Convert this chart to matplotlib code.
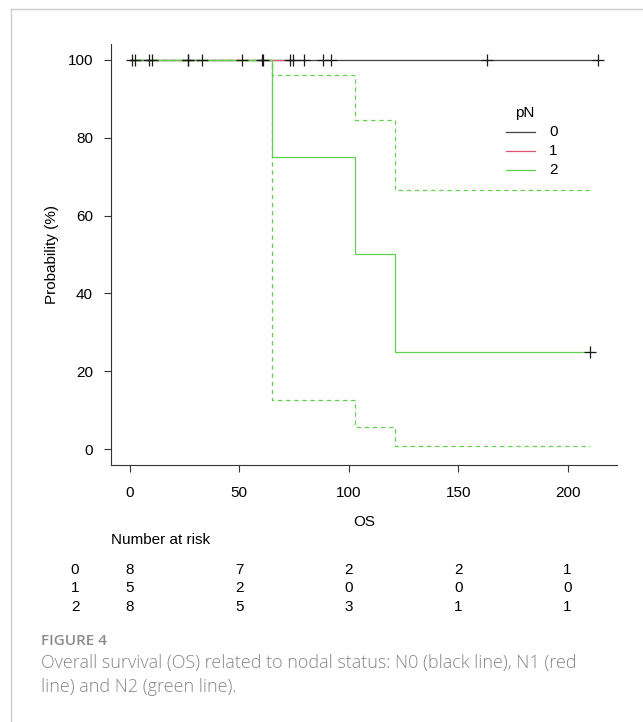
import matplotlib
matplotlib.use("Agg")
import matplotlib.pyplot as plt
from matplotlib.lines import Line2D
from matplotlib.transforms import blended_transform_factory

# Kaplan-Meier steps (OS, probability in %)
groups = ["0", "1", "2"]
colors = ["#404040", "#DF536B", "#61D04F"]

step_times = {
    "0": [0, 214],
    "1": [0, 74.7],
    "2": [0, 65, 103, 121, 210],
}
step_surv = {
    "0": [100, 100],
    "1": [100, 100],
    "2": [100, 75, 50, 25, 25],
}
# 95% CI for pN = 2
ci_times = [0, 65, 103, 121, 210]
ci_lower = [100, 12.8, 5.8, 0.9, 0.9]
ci_upper = [100, 96.1, 84.5, 66.5, 66.5]

# censoring marks
censor = {
    "0": [10.1, 51.5, 60.7, 79.6, 88.4, 91.8, 163, 214],
    "1": [1.05, 8.8, 26.5, 73.2, 74.7],
    "2": [2.3, 26.5, 33.2, 60.4, 210],
}

risk_times = [0, 50, 100, 150, 200]
risk_table = {
    "0": [8, 7, 2, 2, 1],
    "1": [5, 2, 0, 0, 0],
    "2": [8, 5, 3, 1, 1],
}

W, H = 643, 722
fig = plt.figure(figsize=(W / 100, H / 100), dpi=100)
plt.rcParams["font.family"] = ["Liberation Sans", "DejaVu Sans"]
FS = 11


def fx(px):
    return px / W


def fy(py):
    return 1 - py / H


ax = fig.add_axes([fx(111), fy(465), fx(617) - fx(111), fy(44) - fy(465)])

for g, c in zip(groups, colors):
    t = step_times[g]
    s = step_surv[g]
    ax.step(t, s, where="post", color=c, lw=0.9, zorder=2)
    if g == "2":
        ax.step(ci_times, ci_lower, where="post", color=c, lw=0.9,
                dashes=(3.5, 3), zorder=2)
        ax.step(ci_times, ci_upper, where="post", color=c, lw=0.9,
                dashes=(3.5, 3), zorder=2)

# censor marks (drawn dark)
for g in groups:
    t = step_times[g]
    s = step_surv[g]
    ys = []
    for ct in censor[g]:
        y = s[0]
        for tt, ss in zip(t, s):
            if tt <= ct:
                y = ss
        ys.append(y)
    ax.plot(censor[g], ys, ls="none", marker="+", ms=8, mew=0.9,
            color="#1a1a1a", zorder=3)

ax.set_xlim(-8.56, 222.56)
ax.set_ylim(-4, 104)
ax.set_xticks(risk_times)
ax.set_yticks([0, 20, 40, 60, 80, 100])
ax.tick_params(direction="out", length=5, width=0.8, color="#333333",
               labelsize=FS, pad=8)
ax.tick_params(axis="x", pad=10)
for side in ["top", "right"]:
    ax.spines[side].set_visible(False)
for side in ["left", "bottom"]:
    ax.spines[side].set_color("#333333")
    ax.spines[side].set_linewidth(0.8)

fig.text(fx(52), fy(254), "Probability (%)", rotation=90, fontsize=FS,
         ha="center", va="center")
fig.text(fx(364), fy(522), "OS", fontsize=FS, ha="center", va="center")

# legend
fig.text(fx(525), fy(113), "pN", fontsize=FS, ha="center", va="center")
for i, (g, c) in enumerate(zip(groups, colors)):
    yy = 132 + 19 * i
    fig.add_artist(Line2D([fx(506), fx(535)], [fy(yy), fy(yy)], color=c, lw=0.9))
    fig.text(fx(549), fy(yy), g, fontsize=FS, ha="left", va="center")

# number at risk
fig.text(fx(111), fy(540), "Number at risk", fontsize=FS, ha="left", va="center")
trans = blended_transform_factory(ax.transData, fig.transFigure)
for i, g in enumerate(groups):
    yy = 570 + 18.4 * i
    fig.text(fx(75), fy(yy), g, fontsize=FS, ha="center", va="center")
    for t, n in zip(risk_times, risk_table[g]):
        ax.text(t, fy(yy), str(n), transform=trans, fontsize=FS,
                ha="center", va="center", clip_on=False)

# frame and caption
fig.add_artist(Line2D([fx(11), fx(11)], [fy(9), 0], color="#cccccc", lw=1))
fig.add_artist(Line2D([fx(11), 1], [fy(9), fy(9)], color="#cccccc", lw=1))
fig.text(fx(41), fy(641), "FIGURE 4", fontsize=11, color="#8c8c8c",
         family="Open Sans", weight="semibold", ha="left", va="center")
fig.text(fx(41), fy(663), "Overall survival (OS) related to nodal status: N0 (black line), N1 (red",
         fontsize=13, color="#868686", family="Open Sans", weight="light",
         ha="left", va="center")
fig.text(fx(41), fy(687), "line) and N2 (green line).",
         fontsize=13, color="#868686", family="Open Sans", weight="light",
         ha="left", va="center")

fig.savefig("out.png", dpi=100)
